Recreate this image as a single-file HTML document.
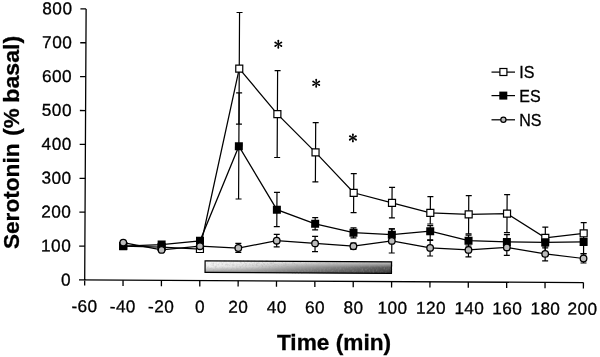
<!DOCTYPE html>
<html><head><meta charset="utf-8"><style>
html,body{margin:0;padding:0;background:#fff;}
svg{display:block;will-change:transform;}
text{font-family:"Liberation Sans",sans-serif;fill:#000;stroke:#000;stroke-width:0.3px;}
</style></head><body>
<svg width="600" height="357" viewBox="0 0 600 357">
<defs>
<linearGradient id="gh" x1="0" y1="0" x2="1" y2="0">
<stop offset="0" stop-color="#f0f0f0"/><stop offset="0.2" stop-color="#d8d8d8"/><stop offset="0.5" stop-color="#a2a2a2"/><stop offset="0.8" stop-color="#767676"/><stop offset="1" stop-color="#545454"/>
</linearGradient>
<linearGradient id="gv" x1="0" y1="0" x2="0" y2="1">
<stop offset="0" stop-color="#fff" stop-opacity="0.75"/><stop offset="0.5" stop-color="#fff" stop-opacity="0"/><stop offset="0.5" stop-color="#000" stop-opacity="0"/><stop offset="1" stop-color="#000" stop-opacity="0.36"/>
</linearGradient>
<filter id="nz" x="0" y="0" width="1" height="1"><feTurbulence type="fractalNoise" baseFrequency="0.55" numOctaves="2" seed="7"/><feColorMatrix type="matrix" values="0 0 0 0 0.35  0 0 0 0 0.35  0 0 0 0 0.35  3 0 0 0 -1.35"/></filter>
</defs>
<rect width="600" height="357" fill="#fff"/>
<g transform="rotate(0.3 84.7 280.0)">
<path d="M84.7 8.9V285.6M79.0 280.0H583.4" stroke="#000" stroke-width="1.3" fill="none"/>
<path d="M79.0 246.11H84.7" stroke="#000" stroke-width="1.3"/>
<path d="M79.0 212.22H84.7" stroke="#000" stroke-width="1.3"/>
<path d="M79.0 178.33H84.7" stroke="#000" stroke-width="1.3"/>
<path d="M79.0 144.44H84.7" stroke="#000" stroke-width="1.3"/>
<path d="M79.0 110.55H84.7" stroke="#000" stroke-width="1.3"/>
<path d="M79.0 76.66H84.7" stroke="#000" stroke-width="1.3"/>
<path d="M79.0 42.77H84.7" stroke="#000" stroke-width="1.3"/>
<path d="M79.0 8.88H84.7" stroke="#000" stroke-width="1.3"/>
<path d="M123.06 280.0V285.8" stroke="#000" stroke-width="1.3"/>
<path d="M161.42 280.0V285.8" stroke="#000" stroke-width="1.3"/>
<path d="M199.79 280.0V285.8" stroke="#000" stroke-width="1.3"/>
<path d="M238.15 280.0V285.8" stroke="#000" stroke-width="1.3"/>
<path d="M276.51 280.0V285.8" stroke="#000" stroke-width="1.3"/>
<path d="M314.87 280.0V285.8" stroke="#000" stroke-width="1.3"/>
<path d="M353.23 280.0V285.8" stroke="#000" stroke-width="1.3"/>
<path d="M391.60 280.0V285.8" stroke="#000" stroke-width="1.3"/>
<path d="M429.96 280.0V285.8" stroke="#000" stroke-width="1.3"/>
<path d="M468.32 280.0V285.8" stroke="#000" stroke-width="1.3"/>
<path d="M506.68 280.0V285.8" stroke="#000" stroke-width="1.3"/>
<path d="M545.04 280.0V285.8" stroke="#000" stroke-width="1.3"/>
<path d="M583.41 280.0V285.8" stroke="#000" stroke-width="1.3"/>
<text x="71.10000000000001" y="285.50" text-anchor="end" font-size="17.2" letter-spacing="0.5">0</text>
<text x="71.10000000000001" y="251.61" text-anchor="end" font-size="17.2" letter-spacing="0.5">100</text>
<text x="71.10000000000001" y="217.72" text-anchor="end" font-size="17.2" letter-spacing="0.5">200</text>
<text x="71.10000000000001" y="183.83" text-anchor="end" font-size="17.2" letter-spacing="0.5">300</text>
<text x="71.10000000000001" y="149.94" text-anchor="end" font-size="17.2" letter-spacing="0.5">400</text>
<text x="71.10000000000001" y="116.05" text-anchor="end" font-size="17.2" letter-spacing="0.5">500</text>
<text x="71.10000000000001" y="82.16" text-anchor="end" font-size="17.2" letter-spacing="0.5">600</text>
<text x="71.10000000000001" y="48.27" text-anchor="end" font-size="17.2" letter-spacing="0.5">700</text>
<text x="71.10000000000001" y="14.38" text-anchor="end" font-size="17.2" letter-spacing="0.5">800</text>
<text x="84.60" y="312.0" text-anchor="middle" font-size="17.2" letter-spacing="0.4">-60</text>
<text x="122.96" y="312.0" text-anchor="middle" font-size="17.2" letter-spacing="0.4">-40</text>
<text x="161.32" y="312.0" text-anchor="middle" font-size="17.2" letter-spacing="0.4">-20</text>
<text x="200.09" y="312.0" text-anchor="middle" font-size="17.2" letter-spacing="0.4">0</text>
<text x="238.45" y="312.0" text-anchor="middle" font-size="17.2" letter-spacing="0.4">20</text>
<text x="276.81" y="312.0" text-anchor="middle" font-size="17.2" letter-spacing="0.4">40</text>
<text x="315.17" y="312.0" text-anchor="middle" font-size="17.2" letter-spacing="0.4">60</text>
<text x="353.63" y="312.0" text-anchor="middle" font-size="17.2" letter-spacing="0.4">80</text>
<text x="392.70" y="312.0" text-anchor="middle" font-size="17.2" letter-spacing="0.4">100</text>
<text x="431.16" y="312.0" text-anchor="middle" font-size="17.2" letter-spacing="0.4">120</text>
<text x="469.52" y="312.0" text-anchor="middle" font-size="17.2" letter-spacing="0.4">140</text>
<text x="507.48" y="312.0" text-anchor="middle" font-size="17.2" letter-spacing="0.4">160</text>
<text x="545.54" y="312.0" text-anchor="middle" font-size="17.2" letter-spacing="0.4">180</text>
<text x="582.71" y="312.0" text-anchor="middle" font-size="17.2" letter-spacing="0.4">200</text>
<rect x="205" y="260.2" width="186.4" height="11.6" fill="url(#gh)"/>
<rect x="205" y="260.2" width="186.4" height="11.6" fill="url(#gv)"/>
<rect x="205" y="260.2" width="186.4" height="11.6" filter="url(#nz)" opacity="0.4"/>
<rect x="205" y="260.2" width="186.4" height="11.6" fill="none" stroke="#000" stroke-width="1.2"/>
<path d="M238.15 11.69V123.39M235.15 11.69h6M235.15 123.39h6" stroke="#000" stroke-width="1.2" fill="none"/>
<path d="M276.51 69.59V156.49M273.51 69.59h6M273.51 156.49h6" stroke="#000" stroke-width="1.2" fill="none"/>
<path d="M314.87 121.39V180.69M311.87 121.39h6M311.87 180.69h6" stroke="#000" stroke-width="1.2" fill="none"/>
<path d="M353.23 172.19V211.29M350.23 172.19h6M350.23 211.29h6" stroke="#000" stroke-width="1.2" fill="none"/>
<path d="M391.60 185.69V216.19M388.60 185.69h6M388.60 216.19h6" stroke="#000" stroke-width="1.2" fill="none"/>
<path d="M429.96 194.79V222.19M426.96 194.79h6M426.96 222.19h6" stroke="#000" stroke-width="1.2" fill="none"/>
<path d="M468.32 193.59V231.79M465.32 193.59h6M465.32 231.79h6" stroke="#000" stroke-width="1.2" fill="none"/>
<path d="M506.68 192.39V230.39M503.68 192.39h6M503.68 230.39h6" stroke="#000" stroke-width="1.2" fill="none"/>
<path d="M545.04 224.79V245.59M542.04 224.79h6M542.04 245.59h6" stroke="#000" stroke-width="1.2" fill="none"/>
<path d="M583.41 219.99V241.39M580.41 219.99h6M580.41 241.39h6" stroke="#000" stroke-width="1.2" fill="none"/>
<polyline points="123.06,245.80 161.42,246.60 199.79,248.40 238.15,67.79 276.51,113.09 314.87,151.19 353.23,191.39 391.60,201.19 429.96,210.99 468.32,212.29 506.68,211.39 545.04,235.39 583.41,230.69" fill="none" stroke="#000" stroke-width="1.25"/>
<rect x="119.56" y="242.30" width="7" height="7" fill="#fff" stroke="#000" stroke-width="1.2"/>
<rect x="157.92" y="243.10" width="7" height="7" fill="#fff" stroke="#000" stroke-width="1.2"/>
<rect x="196.29" y="244.90" width="7" height="7" fill="#fff" stroke="#000" stroke-width="1.2"/>
<rect x="234.65" y="64.29" width="7" height="7" fill="#fff" stroke="#000" stroke-width="1.2"/>
<rect x="273.01" y="109.59" width="7" height="7" fill="#fff" stroke="#000" stroke-width="1.2"/>
<rect x="311.37" y="147.69" width="7" height="7" fill="#fff" stroke="#000" stroke-width="1.2"/>
<rect x="349.73" y="187.89" width="7" height="7" fill="#fff" stroke="#000" stroke-width="1.2"/>
<rect x="388.10" y="197.69" width="7" height="7" fill="#fff" stroke="#000" stroke-width="1.2"/>
<rect x="426.46" y="207.49" width="7" height="7" fill="#fff" stroke="#000" stroke-width="1.2"/>
<rect x="464.82" y="208.79" width="7" height="7" fill="#fff" stroke="#000" stroke-width="1.2"/>
<rect x="503.18" y="207.89" width="7" height="7" fill="#fff" stroke="#000" stroke-width="1.2"/>
<rect x="541.54" y="231.89" width="7" height="7" fill="#fff" stroke="#000" stroke-width="1.2"/>
<rect x="579.91" y="227.19" width="7" height="7" fill="#fff" stroke="#000" stroke-width="1.2"/>
<path d="M238.15 91.99V198.20M235.15 91.99h6M235.15 198.20h6" stroke="#000" stroke-width="1.2" fill="none"/>
<path d="M276.51 191.39V225.59M273.51 191.39h6M273.51 225.59h6" stroke="#000" stroke-width="1.2" fill="none"/>
<path d="M314.87 216.49V228.69M311.87 216.49h6M311.87 228.69h6" stroke="#000" stroke-width="1.2" fill="none"/>
<path d="M353.23 226.39V236.49M350.23 226.39h6M350.23 236.49h6" stroke="#000" stroke-width="1.2" fill="none"/>
<path d="M391.60 227.19V238.89M388.60 227.19h6M388.60 238.89h6" stroke="#000" stroke-width="1.2" fill="none"/>
<path d="M429.96 223.89V237.99M426.96 223.89h6M426.96 237.99h6" stroke="#000" stroke-width="1.2" fill="none"/>
<path d="M468.32 233.19V243.99M465.32 233.19h6M465.32 243.99h6" stroke="#000" stroke-width="1.2" fill="none"/>
<path d="M506.68 232.39V246.79M503.68 232.39h6M503.68 246.79h6" stroke="#000" stroke-width="1.2" fill="none"/>
<path d="M545.04 236.59V250.59M542.04 236.59h6M542.04 250.59h6" stroke="#000" stroke-width="1.2" fill="none"/>
<path d="M583.41 236.39V250.89M580.41 236.39h6M580.41 250.89h6" stroke="#000" stroke-width="1.2" fill="none"/>
<polyline points="123.06,246.00 161.42,244.20 199.79,240.20 238.15,145.39 276.51,208.69 314.87,222.59 353.23,231.29 391.60,233.09 429.96,229.39 468.32,238.69 506.68,239.69 545.04,239.99 583.41,239.29" fill="none" stroke="#000" stroke-width="1.25"/>
<rect x="119.06" y="242.00" width="8" height="8" fill="#000"/>
<rect x="157.42" y="240.20" width="8" height="8" fill="#000"/>
<rect x="195.79" y="236.20" width="8" height="8" fill="#000"/>
<rect x="234.15" y="141.39" width="8" height="8" fill="#000"/>
<rect x="272.51" y="204.69" width="8" height="8" fill="#000"/>
<rect x="310.87" y="218.59" width="8" height="8" fill="#000"/>
<rect x="349.23" y="227.29" width="8" height="8" fill="#000"/>
<rect x="387.60" y="229.09" width="8" height="8" fill="#000"/>
<rect x="425.96" y="225.39" width="8" height="8" fill="#000"/>
<rect x="464.32" y="234.69" width="8" height="8" fill="#000"/>
<rect x="502.68" y="235.69" width="8" height="8" fill="#000"/>
<rect x="541.04" y="235.99" width="8" height="8" fill="#000"/>
<rect x="579.41" y="235.29" width="8" height="8" fill="#000"/>
<path d="M238.15 242.60V251.60M235.15 242.60h6M235.15 251.60h6" stroke="#000" stroke-width="1.2" fill="none"/>
<path d="M276.51 233.30V245.80M273.51 233.30h6M273.51 245.80h6" stroke="#000" stroke-width="1.2" fill="none"/>
<path d="M314.87 235.09V250.39M311.87 235.09h6M311.87 250.39h6" stroke="#000" stroke-width="1.2" fill="none"/>
<path d="M353.23 241.59V248.09M350.23 241.59h6M350.23 248.09h6" stroke="#000" stroke-width="1.2" fill="none"/>
<path d="M391.60 227.19V251.39M388.60 227.19h6M388.60 251.39h6" stroke="#000" stroke-width="1.2" fill="none"/>
<path d="M429.96 238.59V254.19M426.96 238.59h6M426.96 254.19h6" stroke="#000" stroke-width="1.2" fill="none"/>
<path d="M468.32 240.99V254.79M465.32 240.99h6M465.32 254.79h6" stroke="#000" stroke-width="1.2" fill="none"/>
<path d="M506.68 237.39V253.19M503.68 237.39h6M503.68 253.19h6" stroke="#000" stroke-width="1.2" fill="none"/>
<path d="M545.04 244.59V258.49M542.04 244.59h6M542.04 258.49h6" stroke="#000" stroke-width="1.2" fill="none"/>
<path d="M583.41 251.29V260.39M580.41 251.29h6M580.41 260.39h6" stroke="#000" stroke-width="1.2" fill="none"/>
<polyline points="123.06,242.40 161.42,249.50 199.79,245.60 238.15,247.20 276.51,239.70 314.87,242.19 353.23,244.79 391.60,239.29 429.96,246.09 468.32,247.89 506.68,245.19 545.04,251.49 583.41,255.89" fill="none" stroke="#000" stroke-width="1.25"/>
<circle cx="123.06" cy="242.40" r="3.3" fill="#bcbcbc" stroke="#000" stroke-width="1.3"/>
<circle cx="161.42" cy="249.50" r="3.3" fill="#bcbcbc" stroke="#000" stroke-width="1.3"/>
<circle cx="199.79" cy="245.60" r="3.3" fill="#bcbcbc" stroke="#000" stroke-width="1.3"/>
<circle cx="238.15" cy="247.20" r="3.3" fill="#bcbcbc" stroke="#000" stroke-width="1.3"/>
<circle cx="276.51" cy="239.70" r="3.3" fill="#bcbcbc" stroke="#000" stroke-width="1.3"/>
<circle cx="314.87" cy="242.19" r="3.3" fill="#bcbcbc" stroke="#000" stroke-width="1.3"/>
<circle cx="353.23" cy="244.79" r="3.3" fill="#bcbcbc" stroke="#000" stroke-width="1.3"/>
<circle cx="391.60" cy="239.29" r="3.3" fill="#bcbcbc" stroke="#000" stroke-width="1.3"/>
<circle cx="429.96" cy="246.09" r="3.3" fill="#bcbcbc" stroke="#000" stroke-width="1.3"/>
<circle cx="468.32" cy="247.89" r="3.3" fill="#bcbcbc" stroke="#000" stroke-width="1.3"/>
<circle cx="506.68" cy="245.19" r="3.3" fill="#bcbcbc" stroke="#000" stroke-width="1.3"/>
<circle cx="545.04" cy="251.49" r="3.3" fill="#bcbcbc" stroke="#000" stroke-width="1.3"/>
<circle cx="583.41" cy="255.89" r="3.3" fill="#bcbcbc" stroke="#000" stroke-width="1.3"/>
</g>
<g transform="translate(18.9 249.1) rotate(-90)" font-size="22.4" font-weight="bold">
<text x="0" y="0" textLength="105.6" lengthAdjust="spacingAndGlyphs">Serotonin</text>
<text x="113.4" y="0">(%</text>
<text x="146.4" y="0" textLength="66.9" lengthAdjust="spacingAndGlyphs">basal)</text>
</g>
<text x="276.9" y="349.8" font-size="22" font-weight="bold" textLength="114.2" lengthAdjust="spacingAndGlyphs">Time (min)</text>
<g transform="translate(278.3 44.2)" fill="#000"><path d="M-0.4 0L-0.95 -3.5Q-1 -4.45 0 -4.45Q1 -4.45 0.95 -3.5L0.4 0Z" transform="rotate(0)"/><path d="M-0.4 0L-0.95 -3.5Q-1 -4.45 0 -4.45Q1 -4.45 0.95 -3.5L0.4 0Z" transform="rotate(60)"/><path d="M-0.4 0L-0.95 -3.5Q-1 -4.45 0 -4.45Q1 -4.45 0.95 -3.5L0.4 0Z" transform="rotate(120)"/><path d="M-0.4 0L-0.95 -3.5Q-1 -4.45 0 -4.45Q1 -4.45 0.95 -3.5L0.4 0Z" transform="rotate(180)"/><path d="M-0.4 0L-0.95 -3.5Q-1 -4.45 0 -4.45Q1 -4.45 0.95 -3.5L0.4 0Z" transform="rotate(240)"/><path d="M-0.4 0L-0.95 -3.5Q-1 -4.45 0 -4.45Q1 -4.45 0.95 -3.5L0.4 0Z" transform="rotate(300)"/></g><g transform="translate(316.2 83.3)" fill="#000"><path d="M-0.4 0L-0.95 -3.5Q-1 -4.45 0 -4.45Q1 -4.45 0.95 -3.5L0.4 0Z" transform="rotate(0)"/><path d="M-0.4 0L-0.95 -3.5Q-1 -4.45 0 -4.45Q1 -4.45 0.95 -3.5L0.4 0Z" transform="rotate(60)"/><path d="M-0.4 0L-0.95 -3.5Q-1 -4.45 0 -4.45Q1 -4.45 0.95 -3.5L0.4 0Z" transform="rotate(120)"/><path d="M-0.4 0L-0.95 -3.5Q-1 -4.45 0 -4.45Q1 -4.45 0.95 -3.5L0.4 0Z" transform="rotate(180)"/><path d="M-0.4 0L-0.95 -3.5Q-1 -4.45 0 -4.45Q1 -4.45 0.95 -3.5L0.4 0Z" transform="rotate(240)"/><path d="M-0.4 0L-0.95 -3.5Q-1 -4.45 0 -4.45Q1 -4.45 0.95 -3.5L0.4 0Z" transform="rotate(300)"/></g><g transform="translate(352.9 137.9)" fill="#000"><path d="M-0.4 0L-0.95 -3.5Q-1 -4.45 0 -4.45Q1 -4.45 0.95 -3.5L0.4 0Z" transform="rotate(0)"/><path d="M-0.4 0L-0.95 -3.5Q-1 -4.45 0 -4.45Q1 -4.45 0.95 -3.5L0.4 0Z" transform="rotate(60)"/><path d="M-0.4 0L-0.95 -3.5Q-1 -4.45 0 -4.45Q1 -4.45 0.95 -3.5L0.4 0Z" transform="rotate(120)"/><path d="M-0.4 0L-0.95 -3.5Q-1 -4.45 0 -4.45Q1 -4.45 0.95 -3.5L0.4 0Z" transform="rotate(180)"/><path d="M-0.4 0L-0.95 -3.5Q-1 -4.45 0 -4.45Q1 -4.45 0.95 -3.5L0.4 0Z" transform="rotate(240)"/><path d="M-0.4 0L-0.95 -3.5Q-1 -4.45 0 -4.45Q1 -4.45 0.95 -3.5L0.4 0Z" transform="rotate(300)"/></g>
<g>
<path d="M491.5 72.1H515" stroke="#000" stroke-width="1.25"/><rect x="499.90" y="68.50" width="7" height="7" fill="#fff" stroke="#000" stroke-width="1.2"/>
<path d="M491.5 95.6H515" stroke="#000" stroke-width="1.25"/><rect x="499.30" y="91.60" width="8" height="8" fill="#000"/>
<path d="M491.5 119.8H515" stroke="#000" stroke-width="1.25"/><circle cx="503.4" cy="119.8" r="2.6" fill="#bcbcbc" stroke="#000" stroke-width="1.2"/>
<text x="519.3" y="77.7" font-size="16">IS</text>
<text x="519.3" y="101.6" font-size="16">ES</text>
<text x="519.3" y="125.7" font-size="16">NS</text>
</g>
</svg>
</body></html>
